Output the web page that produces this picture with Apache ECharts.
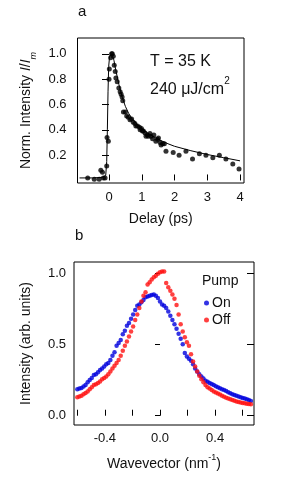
<!DOCTYPE html>
<html><head><meta charset="utf-8">
<script src="https://cdn.jsdelivr.net/npm/echarts@6/dist/echarts.min.js"></script>
<style>html,body{margin:0;padding:0;background:#fff}#c{width:291px;height:482px}</style>
</head><body><div id="c"></div>
<script>
// Panel a: delay scan
const delayPs = [-0.65,-0.45,-0.30,-0.25,-0.20,-0.17,-0.12,-0.07,-0.06,-0.02,0.00,0.01,0.05,0.08,0.10,0.13,0.16,0.19,0.21,0.25,0.30,0.34,0.37,0.40,0.42,0.44,0.50,0.54,0.59,0.64,0.69,0.74,0.79,0.82,0.87,0.93,0.95,0.99,1.02,1.05,1.10,1.13,1.17,1.20,1.25,1.28,1.33,1.37,1.43,1.48,1.51,1.56,1.59,1.64,1.69,1.74,1.96,2.14,2.35,2.55,2.76,2.96,3.17,3.37,3.57,3.78,3.97];
const normIntensity = [0.02,0.01,0.01,0.08,0.065,0.02,0.02,0.115,0.34,0.31,0.80,0.88,0.97,1.0,1.0,0.98,0.91,0.86,0.81,0.78,0.73,0.70,0.68,0.66,0.63,0.54,0.54,0.51,0.50,0.48,0.485,0.46,0.45,0.43,0.43,0.42,0.40,0.41,0.39,0.39,0.375,0.35,0.36,0.35,0.37,0.35,0.33,0.36,0.31,0.325,0.335,0.30,0.28,0.29,0.29,0.23,0.22,0.20,0.23,0.17,0.21,0.20,0.18,0.20,0.17,0.13,0.09];
const fitDelay = [-0.9,-0.5,-0.2,-0.1,-0.07,-0.05,-0.03,-0.01,0.02,0.06,0.10,0.15,0.2,0.3,0.4,0.5,0.6,0.7,0.85,1.0,1.2,1.5,1.8,2.0,2.5,3.0,3.5,4.0];
const fitValue = [0.02,0.02,0.025,0.04,0.15,0.40,0.70,0.90,0.985,1.0,0.995,0.95,0.88,0.76,0.66,0.585,0.53,0.49,0.445,0.41,0.37,0.325,0.29,0.27,0.235,0.205,0.18,0.155];
const delayTicks = [0,1,2,3,4];
const normTicks = [0.2,0.4,0.6,0.8,1.0];

// Panel b: momentum distribution curves
const wavevector = [-0.600,-0.585,-0.570,-0.555,-0.540,-0.525,-0.510,-0.495,-0.480,-0.465,-0.450,-0.435,-0.420,-0.405,-0.390,-0.375,-0.360,-0.345,-0.330,-0.315,-0.300,-0.285,-0.270,-0.255,-0.240,-0.225,-0.210,-0.195,-0.180,-0.165,-0.150,-0.135,-0.120,-0.105,-0.090,-0.075,-0.060,-0.045,-0.030,-0.015,0.000,0.015,0.030,0.045,0.060,0.075,0.090,0.105,0.120,0.135,0.150,0.165,0.180,0.195,0.210,0.225,0.240,0.255,0.270,0.285,0.300,0.315,0.330,0.345,0.360,0.375,0.390,0.405,0.420,0.435,0.450,0.465,0.480,0.495,0.510,0.525,0.540,0.555,0.570,0.585,0.600,0.615,0.630,0.645,0.660];
const pumpOn = [0.185,0.19,0.195,0.205,0.215,0.235,0.25,0.265,0.285,0.29,0.305,0.32,0.33,0.345,0.36,0.37,0.39,0.42,0.445,0.49,0.51,0.53,0.57,0.595,0.63,0.65,0.68,0.71,0.74,0.77,0.78,0.795,0.81,0.83,0.835,0.84,0.845,0.85,0.84,0.825,0.80,0.78,0.77,0.755,0.73,0.70,0.67,0.64,0.61,0.575,0.54,0.50,0.44,0.415,0.40,0.385,0.36,0.33,0.31,0.29,0.275,0.26,0.245,0.238,0.23,0.222,0.215,0.207,0.2,0.193,0.186,0.18,0.173,0.165,0.158,0.15,0.145,0.14,0.135,0.13,0.125,0.12,0.115,0.11,0.103];
const pumpOff = [0.13,0.135,0.14,0.15,0.16,0.17,0.185,0.2,0.215,0.22,0.23,0.24,0.255,0.265,0.275,0.29,0.31,0.33,0.35,0.37,0.39,0.42,0.455,0.49,0.52,0.555,0.59,0.625,0.67,0.71,0.755,0.8,0.84,0.865,0.92,0.935,0.955,0.97,0.98,0.995,1.005,1.01,1.01,0.93,0.9,0.875,0.85,0.82,0.775,0.71,0.64,0.59,0.55,0.515,0.49,0.43,0.38,0.345,0.31,0.28,0.255,0.235,0.215,0.2,0.19,0.18,0.17,0.162,0.155,0.148,0.14,0.133,0.126,0.12,0.115,0.11,0.105,0.1,0.097,0.093,0.09,0.087,0.084,0.082,0.08];
const kTicks = [-0.6,-0.4,-0.2,0,0.2,0.4,0.6];
const kLabels = [-0.4,0,0.4];
const intTicks = [0,0.5,1.0];

const zip = (a,b)=>a.map((v,i)=>[v,b[i]]);
const FONT = 'Liberation Sans, Arial, sans-serif';
const BLUE = '#0000dd', RED = '#ff1010';

const chart = echarts.init(document.getElementById('c'), null, {renderer:'canvas'});
const labelStyle = {color:'#111', fontSize:13, fontFamily:FONT};
chart.setOption({
  animation:false,
  backgroundColor:'#fff',
  grid:[
    {left:77.5, top:38, width:166.5, height:145, show:true, borderColor:'#000', borderWidth:1, backgroundColor:'transparent'},
    {left:74, top:262, width:180, height:163, show:true, borderColor:'#000', borderWidth:1, backgroundColor:'transparent'}
  ],
  xAxis:[
    {gridIndex:0, type:'value', min:-0.962, max:4.122,
     axisLine:{show:false}, splitLine:{show:false},
     axisTick:{show:true, inside:true, length:6, lineStyle:{color:'#000'}, customValues:delayTicks},
     axisLabel:{...labelStyle, margin:8, customValues:delayTicks, formatter:v=>String(Math.round(v))},
     name:'Delay (ps)', nameLocation:'middle', nameGap:29, nameTextStyle:{color:'#111', fontSize:14, fontFamily:FONT}},
    {gridIndex:1, type:'value', min:-0.624, max:0.682,
     axisLine:{show:false}, splitLine:{show:false},
     axisTick:{show:true, inside:true, length:6, lineStyle:{color:'#000'}, customValues:kTicks},
     axisLabel:{...labelStyle, margin:7, customValues:kLabels, formatter:v=>v.toFixed(1)},
     name:'{n|Wavevector (nm}{s|-1}{n|)}', nameLocation:'middle', nameGap:28,
     nameTextStyle:{color:'#111', fontSize:14, fontFamily:FONT, rich:{
       n:{fontSize:14, fontFamily:FONT, color:'#111', lineHeight:18, verticalAlign:'bottom'},
       s:{fontSize:9, fontFamily:FONT, color:'#111', lineHeight:18, verticalAlign:'top'}}}}
  ],
  yAxis:[
    {gridIndex:0, type:'value', min:-0.02, max:1.125,
     axisLine:{show:false}, splitLine:{show:false},
     axisTick:{show:true, inside:false, length:7, lineStyle:{color:'#000'}, customValues:normTicks},
     axisLabel:{...labelStyle, margin:11, customValues:normTicks, formatter:v=>v.toFixed(1)},
     name:'{n|Norm. Intensity }{i|I}{n|/}{i|I}{s|m}', nameLocation:'middle', nameGap:38, nameRotate:90,
     nameTextStyle:{color:'#111', fontSize:14, fontFamily:FONT, rich:{
       n:{fontSize:14, fontFamily:FONT, color:'#111', lineHeight:18, verticalAlign:'top'},
       i:{fontSize:14, fontFamily:FONT, fontStyle:'italic', color:'#111', lineHeight:18, verticalAlign:'top'},
       s:{fontSize:9, fontFamily:FONT, fontStyle:'italic', color:'#111', lineHeight:18, verticalAlign:'bottom'}}}},
    {gridIndex:1, type:'value', min:-0.065, max:1.077,
     axisLine:{show:false}, splitLine:{show:false},
     axisTick:{show:true, inside:false, length:5, lineStyle:{color:'#000'}, customValues:intTicks},
     axisLabel:{...labelStyle, margin:8, customValues:intTicks, formatter:v=>v.toFixed(1)},
     name:'Intensity (arb. units)', nameLocation:'middle', nameGap:41, nameRotate:90,
     nameTextStyle:{color:'#111', fontSize:14, fontFamily:FONT}},
    {gridIndex:1, type:'value', min:-0.065, max:1.077,
     axisLine:{show:false}, splitLine:{show:false},
     axisTick:{show:true, inside:true, length:7, lineStyle:{color:'#000'}, customValues:intTicks},
     axisLabel:{show:false}}
  ],
  legend:{
    left:199, top:291, orient:'vertical', icon:'circle', itemWidth:5, itemHeight:5, itemGap:3,
    textStyle:{color:'#111', fontSize:14, fontFamily:FONT, padding:[0,0,0,-2]},
    data:['On','Off']
  },
  graphic:[
    {type:'text', left:78, top:4, style:{text:'a', fill:'#111', font:'15px '+FONT}},
    {type:'text', left:75, top:228, style:{text:'b', fill:'#111', font:'15px '+FONT}},
    {type:'text', left:150, top:54, style:{text:'T = 35 K', fill:'#111', font:'16px '+FONT}},
    {type:'text', left:150, top:76, style:{text:'{n|240 μJ/cm}{s|2}', fill:'#111',
      rich:{n:{fontSize:16, fontFamily:FONT, fill:'#111', lineHeight:22, verticalAlign:'bottom'},
            s:{fontSize:10, fontFamily:FONT, fill:'#111', lineHeight:22, verticalAlign:'top'}}}},
    {type:'text', left:202, top:274, style:{text:'Pump', fill:'#111', font:'14px '+FONT}}
  ],
  series:[
    {type:'line', xAxisIndex:0, yAxisIndex:0, data:zip(fitDelay, fitValue), symbol:'none', smooth:false,
     lineStyle:{color:'#000', width:1}, silent:true},
    {type:'scatter', xAxisIndex:0, yAxisIndex:0, data:zip(delayPs, normIntensity), symbol:'circle', symbolSize:5,
     itemStyle:{color:'#000'}},
    {name:'On', type:'scatter', xAxisIndex:1, yAxisIndex:1, data:zip(wavevector, pumpOn), symbol:'circle', symbolSize:4.5,
     itemStyle:{color:BLUE}},
    {name:'Off', type:'scatter', xAxisIndex:1, yAxisIndex:1, data:zip(wavevector, pumpOff), symbol:'circle', symbolSize:4.5,
     itemStyle:{color:RED}}
  ]
});
</script></body></html>
